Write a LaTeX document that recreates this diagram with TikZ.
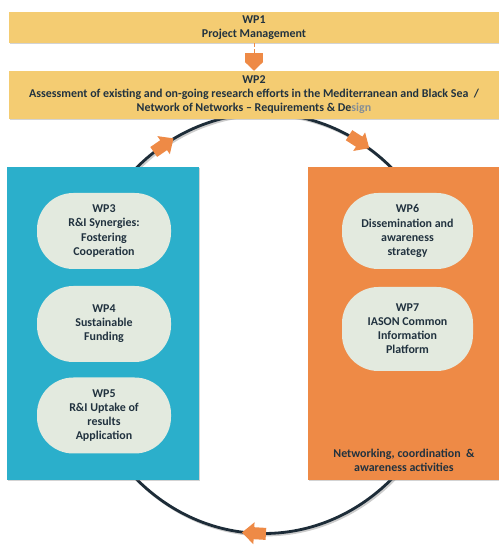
\documentclass[tikz,border=0pt]{standalone}
\usepackage{fontspec}
\setmainfont{Carlito}
\usepackage{xcolor}
\usepackage{tikz}
\usetikzlibrary{arrows.meta,shadows,calc,decorations.markings}
\definecolor{wpyellow}{HTML}{F4CC72}
\definecolor{wpblue}{HTML}{2BAFCB}
\definecolor{wporange}{HTML}{EE8A46}
\definecolor{wppill}{HTML}{E3EADF}
\definecolor{wptext}{HTML}{21323F}
\definecolor{wpring}{HTML}{1D2C38}
\newcommand\pxu{0.03cm}
\newcommand\ringarrow{\fill[wporange] (12,-6) -- (0,-6) -- (0,-11) -- (-12,0) -- (0,11) -- (0,6) -- (12,6) -- cycle;}

\begin{document}
\begin{tikzpicture}[x=\pxu,y=\pxu,font=\bfseries\fontsize{10.2}{12}\selectfont,text=wptext,
  wpshadow/.style={drop shadow={shadow xshift=1.2pt,shadow yshift=-1.2pt,opacity=.35}},
  wpbar/.style={fill=wpyellow,wpshadow,minimum width=490*\pxu,align=center,inner sep=0pt},
  wpblock/.style={wpshadow,minimum width=192*\pxu,minimum height=313*\pxu,inner sep=0pt},
  wppillbox/.style={fill=wppill,rounded corners=31pt,minimum width=134*\pxu,minimum height=76*\pxu,align=center,inner sep=0pt},
  ringmarks/.style={decoration={markings,
      mark=at position .170 with {\ringarrow},
      mark=at position .335 with {\ringarrow},
      mark=at position .742 with {\ringarrow}},postaction={decorate}}]
  \useasboundingbox (0,0) rectangle (499,547);
  % cycle behind the blocks
  \coordinate (cyc) at (264,223.5);
  \draw[black,opacity=.2,line width=2.4pt] ([shift={(1.5,-1.5)}]cyc) ellipse [x radius=190,y radius=210];
  \draw[wpring,line width=2.4pt,ringmarks] (cyc) ellipse [x radius=190,y radius=210];
  % top bars
  \node[wpbar,minimum height=31*\pxu] (wp1) at (254,519.5) {WP1\\Project Management};
  \node[wpbar,minimum height=48*\pxu] (wp2) at (254,452) {WP2\\Assessment of existing and on-going research efforts in the Mediterranean and Black Sea~~/\\Network of Networks -- Requirements \& De{\color{wptext!55}sign}};
  \draw[wporange,densely dashed,line width=.6pt] (wp1.south) -- ++(0,-10) coordinate (hd);
  \draw[wporange,line width=15.3pt,-{Triangle[width=15.3pt,length=7.6pt]}] (hd) -- (wp2.north);
  % side blocks
  \node[wpblock,fill=wpblue] (rni) at (103,223.5) {};
  \node[wpblock,fill=wporange,minimum width=191*\pxu] (net) at (403.5,223.5) {};
  \node[wppillbox] (wp3) at (104,316) {WP3\\R\&I Synergies:\\Fostering\\Cooperation};
  \node[wppillbox] (wp4) at (104,223) {WP4\\Sustainable\\Funding};
  \node[wppillbox] (wp5) at (104,131.5) {WP5\\R\&I Uptake of\\results\\Application};
  \node[wppillbox,minimum width=131*\pxu] (wp6) at (407.5,316) {WP6\\Dissemination and\\awareness\\strategy};
  \node[wppillbox,minimum width=131*\pxu,minimum height=84*\pxu] (wp7) at (407.5,218) {WP7\\IASON Common\\Information\\Platform};
  \node[align=center,inner sep=0pt] (netlbl) at (404,86.5) {Networking, coordination~~\&\\awareness activities};
\end{tikzpicture}
\end{document}
